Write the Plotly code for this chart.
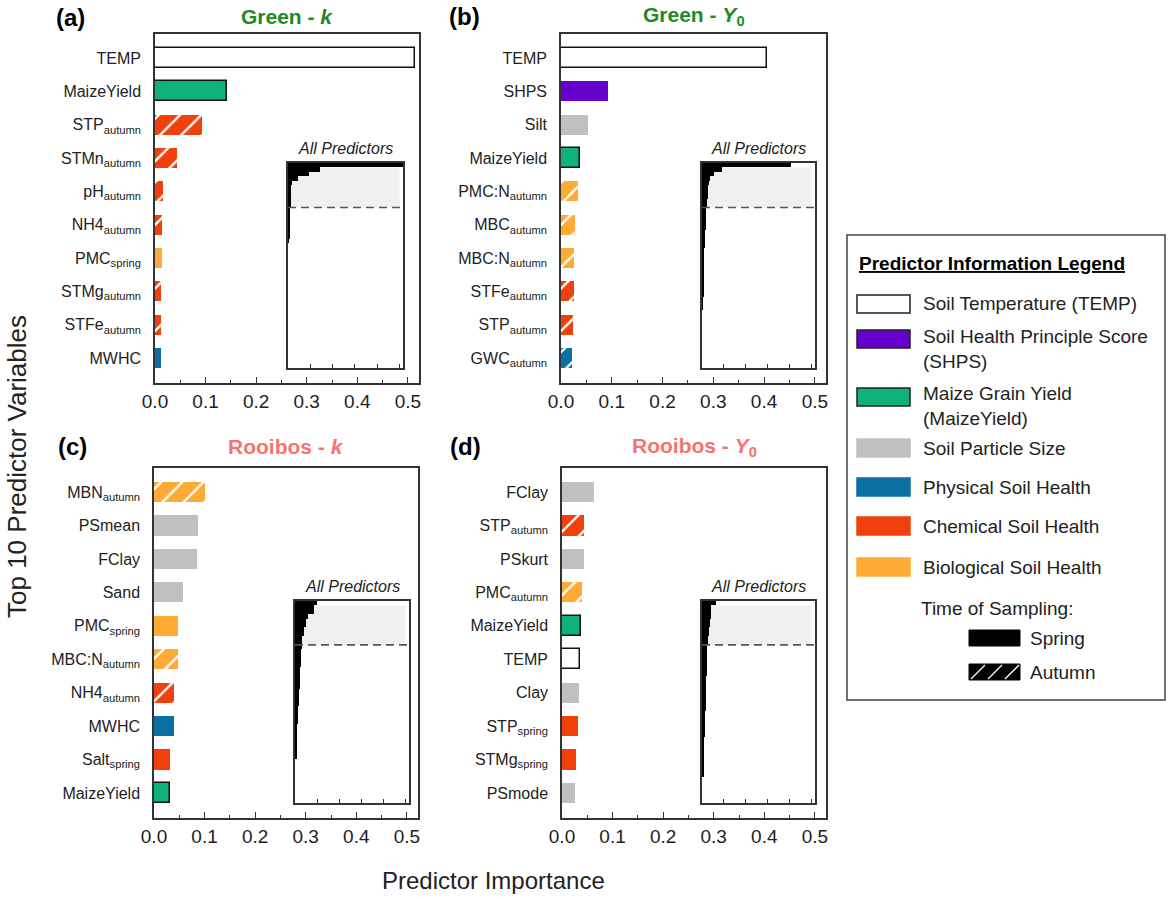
import plotly.graph_objects as go

# ---- data ----
# (a) Green - k
a_names = ["TEMP", "MaizeYield", "STP", "STMn", "pH", "NH4", "PMC", "STMg", "STFe", "MWHC"]
a_time = ["", "", "autumn", "autumn", "autumn", "autumn", "spring", "autumn", "autumn", ""]
a_group = ["temp", "maize", "chem", "chem", "chem", "chem", "bio", "chem", "chem", "phys"]
a_values = [0.514, 0.142, 0.093, 0.043, 0.016, 0.0145, 0.0145, 0.0125, 0.0125, 0.012]
a_rest = [0.010, 0.009, 0.008, 0.008, 0.007, 0.006, 0.005, 0.004]

# (b) Green - Y0
b_names = ["TEMP", "SHPS", "Silt", "MaizeYield", "PMC:N", "MBC", "MBC:N", "STFe", "STP", "GWC"]
b_time = ["", "", "", "", "autumn", "autumn", "autumn", "autumn", "autumn", "autumn"]
b_group = ["temp", "shps", "ps", "maize", "bio", "bio", "bio", "chem", "chem", "phys"]
b_values = [0.405, 0.093, 0.053, 0.038, 0.034, 0.028, 0.026, 0.026, 0.023, 0.021]
b_rest = [0.020, 0.019, 0.018, 0.018, 0.016, 0.015, 0.014, 0.013, 0.012, 0.011, 0.011, 0.009,
          0.008, 0.008, 0.007, 0.007, 0.006, 0.006, 0.005, 0.005, 0.004, 0.004, 0.003]

# (c) Rooibos - k
c_names = ["MBN", "PSmean", "FClay", "Sand", "PMC", "MBC:N", "NH4", "MWHC", "Salt", "MaizeYield"]
c_time = ["autumn", "", "", "", "spring", "autumn", "autumn", "", "spring", ""]
c_group = ["bio", "ps", "ps", "ps", "bio", "bio", "chem", "phys", "chem", "maize"]
c_values = [0.100, 0.0875, 0.0855, 0.058, 0.048, 0.048, 0.039, 0.039, 0.031, 0.032]
c_rest = [0.030, 0.029, 0.027, 0.026, 0.025, 0.024, 0.023, 0.022, 0.022, 0.021, 0.020, 0.018, 0.017,
          0.016, 0.015, 0.014, 0.013, 0.012, 0.011, 0.011, 0.010, 0.009, 0.009, 0.008, 0.007, 0.006]

# (d) Rooibos - Y0
d_names = ["FClay", "STP", "PSkurt", "PMC", "MaizeYield", "TEMP", "Clay", "STP", "STMg", "PSmode"]
d_time = ["", "autumn", "", "autumn", "", "", "", "spring", "spring", ""]
d_group = ["ps", "chem", "ps", "bio", "maize", "temp", "ps", "chem", "chem", "ps"]
d_values = [0.063, 0.043, 0.043, 0.039, 0.038, 0.035, 0.033, 0.031, 0.028, 0.026]
d_rest = [0.025, 0.024, 0.024, 0.023, 0.022, 0.022, 0.021, 0.020, 0.020, 0.019, 0.018, 0.018, 0.017,
          0.016, 0.016, 0.015, 0.014, 0.014, 0.013, 0.012, 0.012, 0.011, 0.010, 0.010, 0.009, 0.008,
          0.008, 0.007, 0.006, 0.005]

n_predictors = 46

legend_groups = ["temp", "shps", "maize", "ps", "phys", "chem", "bio"]
legend_labels = ["Soil Temperature (TEMP)", "Soil Health Principle Score<br>(SHPS)",
                 "Maize Grain Yield<br>(MaizeYield)", "Soil Particle Size", "Physical Soil Health",
                 "Chemical Soil Health", "Biological Soil Health"]

# ---- style ----
FONT = "Liberation Sans, Arial, sans-serif"
INK = "#222222"
AXIS = "#333333"
colors = {"temp": "white", "shps": "#6600CC", "maize": "#10B27C", "ps": "#C0C0C0",
          "phys": "#0B6FA2", "chem": "#F0400C", "bio": "#FFAA35"}
outlined = {"temp", "maize"}

W, H = 1170, 899


def px(x):
    return x / W


def py(y):
    return 1 - y / H


def note(x, y, text, size, color=INK, xanchor="center", **kw):
    font = dict(size=size, color=color, family=FONT)
    font.update(kw.pop("font", {}))
    return dict(x=px(x), y=py(y), xref="paper", yref="paper", text=text, showarrow=False,
                xanchor=xanchor, yanchor="middle", font=font, **kw)


panels = [
    dict(key="a", names=a_names, time=a_time, group=a_group, values=a_values, rest=a_rest,
         title="Green - <i>k</i>", tcol="#1E8A22",
         box=(155, 419, 34, 383), inset=(288, 403, 163, 368), tag=(70, 17)),
    dict(key="b", names=b_names, time=b_time, group=b_group, values=b_values, rest=b_rest,
         title="Green - <i>Y</i><sub>0</sub>", tcol="#1E8A22",
         box=(561, 826, 34, 383), inset=(702, 815, 163, 368), tag=(464, 16)),
    dict(key="c", names=c_names, time=c_time, group=c_group, values=c_values, rest=c_rest,
         title="Rooibos - <i>k</i>", tcol="#F77272",
         box=(154, 418, 468, 818), inset=(295, 409, 601, 803), tag=(72, 446)),
    dict(key="d", names=d_names, time=d_time, group=d_group, values=d_values, rest=d_rest,
         title="Rooibos - <i>Y</i><sub>0</sub>", tcol="#F77272",
         box=(562, 826, 468, 818), inset=(702, 815, 601, 803), tag=(465, 446)),
]

fig = go.Figure()
layout = {}
shapes = []
annotations = []

for i, p in enumerate(panels):
    n, m = i + 1, i + 5
    labels = [f"{nm}<sub>{t}</sub>" if t else nm for nm, t in zip(p["names"], p["time"])]
    hatched = [t == "autumn" for t in p["time"]]

    # one trace per colour / sampling time so the hatch colour stays white
    combos = []
    for g, h in zip(p["group"], hatched):
        if (g, h) not in combos:
            combos.append((g, h))
    for g, h in combos:
        idx = [k for k in range(len(labels)) if p["group"][k] == g and hatched[k] == h]
        fig.add_trace(go.Bar(
            x=[p["values"][k] for k in idx], y=[labels[k] for k in idx],
            orientation="h", width=0.6,
            marker=dict(
                color=colors[g],
                line=dict(color="#111111", width=1.5 if g in outlined else 0),
                pattern=dict(shape="/" if h else "", fillmode="overlay", bgcolor=colors[g],
                             fgcolor="white", fgopacity=1, size=15, solidity=0.15),
            ),
            xaxis=f"x{n}", yaxis=f"y{n}", showlegend=False, hoverinfo="skip"))

    allv = p["values"] + p["rest"]
    fig.add_trace(go.Bar(
        x=allv, y=list(range(1, len(allv) + 1)), orientation="h", width=1,
        marker=dict(color="black", line=dict(width=0)),
        xaxis=f"x{m}", yaxis=f"y{m}", showlegend=False, hoverinfo="skip"))

    l, r, t, b = p["box"]
    sfx = "" if n == 1 else str(n)
    layout[f"xaxis{sfx}"] = dict(
        domain=[px(l), px(r)], anchor=f"y{n}", range=[0, 0.522], automargin=False,
        showline=True, mirror=True, linecolor=AXIS, linewidth=1.5,
        ticks="inside", ticklen=6, tickwidth=1.3, tickcolor=AXIS,
        tick0=0, dtick=0.1, tickformat=".1f", tickfont=dict(size=19, color=INK),
        minor=dict(ticks="inside", ticklen=3, tickwidth=1.2, tickcolor=AXIS, dtick=0.05),
        showgrid=False, zeroline=False, fixedrange=True)
    layout[f"yaxis{sfx}"] = dict(
        domain=[py(b), py(t)], anchor=f"x{n}", type="category", automargin=False,
        categoryorder="array", categoryarray=labels, range=[9.75, -0.72],
        showline=True, mirror=True, linecolor=AXIS, linewidth=1.5,
        ticks="", tickfont=dict(size=16, color=INK), ticklabelstandoff=9,
        showgrid=False, zeroline=False, fixedrange=True)

    il, ir, it, ib = p["inset"]
    layout[f"xaxis{m}"] = dict(
        domain=[px(il), px(ir)], anchor=f"y{m}", range=[0, 0.515], automargin=False,
        showline=True, mirror=True, linecolor=AXIS, linewidth=1.5,
        ticks="inside", ticklen=4, tickwidth=1.3, tickcolor=AXIS, tick0=0, dtick=0.1,
        showticklabels=False, showgrid=False, zeroline=False, fixedrange=True)
    layout[f"yaxis{m}"] = dict(
        domain=[py(ib), py(it)], anchor=f"x{m}", range=[n_predictors + 0.5, 0.5], automargin=False,
        showline=True, mirror=True, linecolor=AXIS, linewidth=1.5,
        ticks="", showticklabels=False, showgrid=False, zeroline=False, fixedrange=True)

    # top-10 band and cut-off line in the inset
    shapes.append(dict(type="rect", xref=f"x{m}", yref=f"y{m}", x0=0, x1=0.5, y0=1.5, y1=10.5,
                       fillcolor="#F0F0F0", line=dict(width=0), layer="below"))
    shapes.append(dict(type="line", xref=f"x{m} domain", yref=f"y{m}", x0=0, x1=1, y0=10.5, y1=10.5,
                       line=dict(color="#555555", width=1.6, dash="8px,5px")))
    annotations.append(note((il + ir) / 2, it - 15, "<i>All Predictors</i>", 16))
    annotations.append(note((l + r) / 2, 16 if t < 100 else 447, f"<b>{p['title']}</b>", 21, p["tcol"]))
    annotations.append(note(p["tag"][0], p["tag"][1], f"<b>({p['key']})</b>", 24, "black"))

# axis titles
annotations.append(note(493, 880, "Predictor Importance", 24))
annotations.append(note(17, 467, "Top 10 Predictor Variables", 26, textangle=-90))

# ---- legend box ----
shapes.append(dict(type="rect", xref="paper", yref="paper", x0=px(847), x1=px(1165), y0=py(700), y1=py(235),
                   line=dict(color="#444444", width=1.5), fillcolor="white", layer="below"))
annotations.append(note(857, 263, "<b>Predictor Information Legend</b>", 19, "black", xanchor="left",
                        font=dict(lineposition="under")))
sw_y = [304, 339, 397, 448, 487, 526, 567]
tx_y = [304, 349, 406, 448, 487, 526, 567]
for g, lab, sy, ty in zip(legend_groups, legend_labels, sw_y, tx_y):
    shapes.append(dict(type="rect", xref="paper", yref="paper", x0=px(857), x1=px(910),
                       y0=py(sy + 9), y1=py(sy - 9), fillcolor=colors[g],
                       line=dict(color="#222222" if g in outlined or g == "shps" else colors[g], width=1.5)))
    annotations.append(note(921, ty, lab, 19, xanchor="left", align="left"))
annotations.append(note(919, 608, "Time of Sampling:", 19, xanchor="left"))
for lab, sy in [("Spring", 638), ("Autumn", 672)]:
    shapes.append(dict(type="rect", xref="paper", yref="paper", x0=px(969), x1=px(1020),
                       y0=py(sy + 8), y1=py(sy - 8), fillcolor="black", line=dict(color="black", width=1)))
    annotations.append(note(1028, sy, lab, 19, xanchor="left"))
for x0 in [971, 988, 1005]:
    shapes.append(dict(type="line", xref="paper", yref="paper", x0=px(x0), x1=px(x0 + 14),
                       y0=py(679), y1=py(665), line=dict(color="white", width=1.3)))

fig.update_layout(
    template="none",
    width=W, height=H, autosize=False,
    margin=dict(l=0, r=0, t=0, b=0),
    paper_bgcolor="white", plot_bgcolor="white",
    font=dict(family=FONT, color=INK),
    barmode="overlay", bargap=0, shapes=shapes, annotations=annotations,
    **layout)

# page body margin would push the figure off by 8px
fig.write_html("out.html", config={"displayModeBar": False},
               post_script="document.body.style.margin = '0px';")
